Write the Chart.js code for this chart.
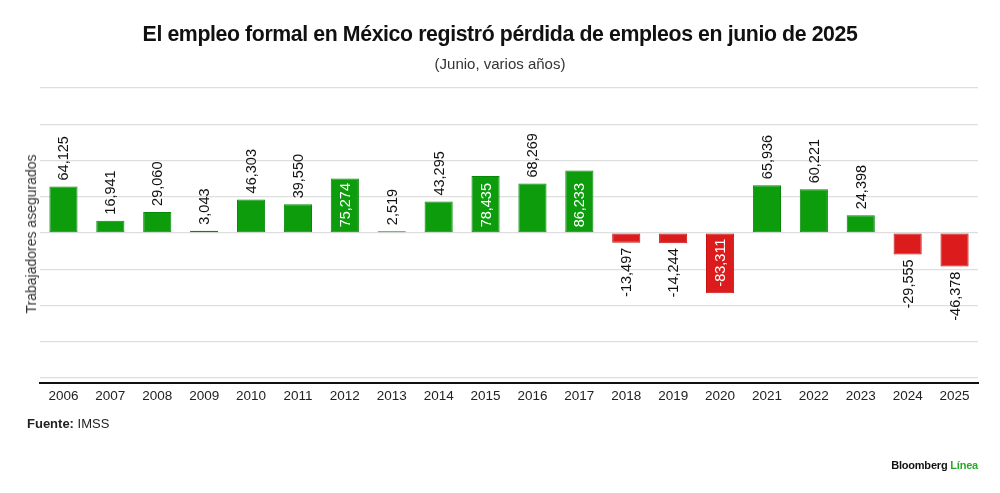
<!DOCTYPE html>
<html>
<head>
<meta charset="utf-8">
<script src="https://cdn.jsdelivr.net/npm/chart.js@4/dist/chart.umd.min.js"></script>
<style>
  body { margin: 0; background: #fff; font-family: "Liberation Sans", Arial, sans-serif; }
  #wrap { position: relative; width: 1000px; height: 493px; overflow: hidden; }
  #wrap canvas { position: absolute; left: 0; top: 0; }
  .title { position: absolute; top: 22px; left: 0; width: 1000px; text-align: center; font-weight: bold; font-size: 21.3px; letter-spacing: -0.4px; color: #111; }
  .subtitle { position: absolute; top: 55px; left: 0; width: 1000px; text-align: center; font-size: 15px; color: #333; }
  .ytitle { position: absolute; left: 31px; top: 234px; transform: translate(-50%, -50%) rotate(-90deg); font-size: 14px; color: #333; white-space: nowrap; }
  .source { position: absolute; left: 27px; top: 416px; font-size: 13px; color: #222; }
  .brand { position: absolute; right: 22px; top: 459px; font-size: 11px; font-weight: bold; color: #111; letter-spacing: -0.2px; }
  .brand span { color: #2aa82a; }
</style>
</head>
<body>
<div id="wrap">
  <canvas id="chart" width="1000" height="493"></canvas>
  <div class="title">El empleo formal en México registró pérdida de empleos en junio de 2025</div>
  <div class="subtitle">(Junio, varios años)</div>
  <div class="ytitle">Trabajadores asegurados</div>
  <div class="source"><b>Fuente:</b> IMSS</div>
  <div class="brand">Bloomberg <span>Línea</span></div>
</div>
<script>
// datos: junio de cada año
const years = ['2006', '2007', '2008', '2009', '2010', '2011', '2012', '2013', '2014', '2015',
  '2016', '2017', '2018', '2019', '2020', '2021', '2022', '2023', '2024', '2025'];
const empleos = [64125, 16941, 29060, 3043, 46303, 39550, 75274, 2519, 43295, 78435,
  68269, 86233, -13497, -14244, -83311, 65936, 60221, 24398, -29555, -46378];
// lineas de la cuadricula
const yTicks = [-200000, -150000, -100000, -50000, 0, 50000, 100000, 150000, 200000];

const GREEN = '#0c9c0c';
const RED = '#dc1c1c';

// etiquetas verticales sobre / dentro de las barras
const barLabels = {
  id: 'barLabels',
  afterDatasetsDraw(chart) {
    const ctx = chart.ctx;
    const meta = chart.getDatasetMeta(0);
    ctx.save();
    ctx.font = '14.5px "Liberation Sans", Arial, sans-serif';
    ctx.textBaseline = 'middle';
    meta.data.forEach((bar, i) => {
      const v = empleos[i];
      const txt = v.toLocaleString('en-US');
      const inside = Math.abs(v) > 70000;
      let y;
      if (inside) {
        y = v > 0 ? bar.base - 5 : bar.base + 5;
        ctx.fillStyle = '#fff';
      } else {
        y = v > 0 ? bar.y - 6 : bar.y + 5;
        ctx.fillStyle = '#111';
      }
      ctx.save();
      ctx.translate(bar.x, y);
      ctx.rotate(-Math.PI / 2);
      ctx.textAlign = v > 0 ? 'left' : 'right';
      ctx.fillText(txt, 0, 1);
      ctx.restore();
    });
    ctx.restore();
  }
};

new Chart(document.getElementById('chart'), {
  type: 'bar',
  data: {
    labels: years,
    datasets: [{
      data: empleos,
      backgroundColor: empleos.map(v => v >= 0 ? GREEN : RED),
      borderColor: empleos.map(v => v >= 0 ? '#088808' : '#c51212'),
      borderWidth: 1,
      borderSkipped: false,
      barPercentage: 0.6,
      categoryPercentage: 1,
    }],
  },
  options: {
    responsive: false,
    animation: false,
    events: [],
    layout: { padding: { left: 40, right: 22, top: 88, bottom: 0 } },
    plugins: {
      legend: { display: false },
      tooltip: { enabled: false },
    },
    scales: {
      x: {
        afterFit: (s) => { s.height = 110; },
        grid: { display: false, drawTicks: false },
        border: { display: true, color: '#111', width: 2 },
        ticks: {
          padding: 5,
          color: '#222',
          font: { family: '"Liberation Sans", Arial, sans-serif', size: 13.5 },
          maxRotation: 0,
        },
      },
      y: {
        min: -207000,
        max: 200000,
        afterFit: (s) => { s.width = 0; },
        afterBuildTicks: (s) => { s.ticks = yTicks.map(v => ({ value: v })); },
        ticks: { display: false },
        grid: { drawTicks: false, color: '#dedede', lineWidth: 1.2 },
        border: { display: false },
      },
    },
  },
  plugins: [barLabels],
});
</script>
</body>
</html>
